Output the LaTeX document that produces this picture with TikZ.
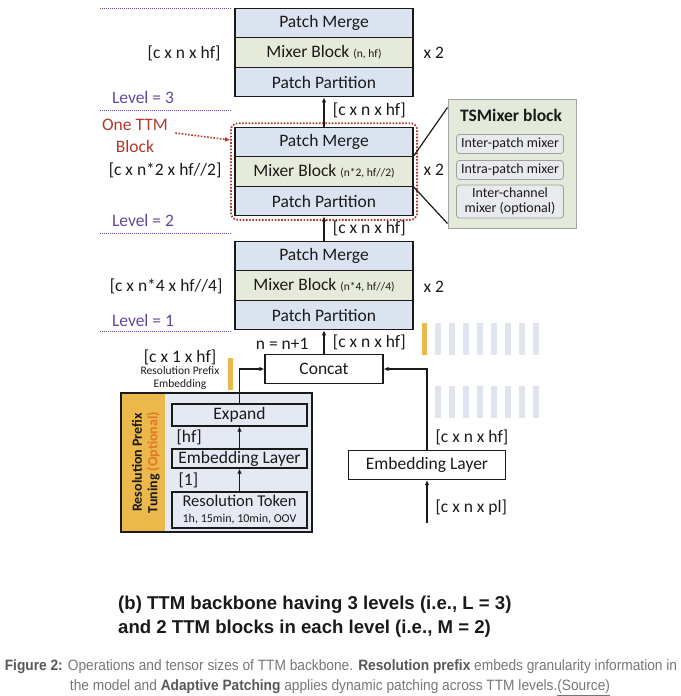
\documentclass[tikz,border=0pt]{standalone}
\usepackage{fontspec}
\setmainfont{Carlito}
\newfontfamily\capfont{Liberation Sans}
\usetikzlibrary{fit,arrows.meta}

\definecolor{mergeblue}{HTML}{DCE3F0}
\definecolor{mixgreen}{HTML}{E6EBD9}
\definecolor{levelpurple}{HTML}{6446A2}
\definecolor{ttmred}{HTML}{B0392B}
\definecolor{prefixyellow}{HTML}{EBB84C}
\definecolor{optorange}{HTML}{E2772B}
\definecolor{prefixbg}{HTML}{E4E9F3}
\definecolor{tokenbar}{HTML}{DFE4EE}
\definecolor{mixerbg}{HTML}{E3EAD9}
\definecolor{innergray}{HTML}{E8EAED}
\definecolor{capgray}{HTML}{767676}
\definecolor{capdark}{HTML}{575757}
\definecolor{inkblack}{HTML}{1A1A1A}

\newcommand{\bigtxt}{\fontsize{17.5}{20}\selectfont}
\newcommand{\smalltxt}{\fontsize{11.5}{13}\selectfont}

\begin{document}
\begin{tikzpicture}[x=1pt, y=-1pt,
        every node/.style={text=inkblack},
        ttmrow/.style={draw=inkblack, line width=1.2pt, minimum width=178pt, minimum height=29.5pt, inner sep=0pt, font=\bigtxt},
        mergerow/.style={ttmrow, fill=mergeblue},
        mixrow/.style={ttmrow, fill=mixgreen},
        plainbox/.style={draw=inkblack, line width=1.2pt, inner sep=0pt, font=\bigtxt},
        flow/.style={-{Latex[length=5pt,width=4.5pt]}, line width=1.2pt, inkblack},
        levelline/.style={levelpurple, line width=1pt, dash pattern=on 1pt off 1pt},
        levellabel/.style={text=levelpurple, font=\bigtxt},
        sizelabel/.style={font=\bigtxt},
        innerbox/.style={draw=gray!75, fill=innergray, rounded corners=3pt, line width=0.8pt, minimum width=107pt, minimum height=19pt, inner sep=0pt, font=\fontsize{14}{15.5}\selectfont}]
        \useasboundingbox (0,0) rectangle (680,696);

        % Level 3
        \draw[levelline] (100,8) -- (232,8);
        \node[mergerow] (mergeC) at (324,23) {Patch Merge};
        \node[mixrow] (mixC) at (324,52.5) {Mixer Block {\smalltxt (n, hf)}};
        \node[mergerow] (partC) at (324,82) {Patch Partition};
        \node[sizelabel, anchor=east] (sizeC) at (224,53) {[c x n x hf]};
        \node[sizelabel, anchor=west] (repC) at (420,53) {x 2};
        \node[levellabel] (levelC) at (143,97) {Level = 3};
        \draw[levelline] (100,110) -- (232,110);

        % Level 2 (one TTM block)
        \node[mergerow] (mergeB) at (324,142) {Patch Merge};
        \node[mixrow] (mixB) at (324,171.5) {Mixer Block {\smalltxt (n*2, hf//2)}};
        \node[mergerow] (partB) at (324,201) {Patch Partition};
        \node[fit=(mergeB)(partB), draw=ttmred, line width=1.8pt, dash pattern=on 1.6pt off 1.6pt, rounded corners=7pt, inner sep=3.5pt] (ttmblock) {};
        \node[sizelabel, anchor=east] (sizeB) at (225,170) {[c x n*2 x hf//2]};
        \node[sizelabel, anchor=west] (repB) at (420,170) {x 2};
        \node[text=ttmred, font=\fontsize{17.5}{22}\selectfont, align=center] (onettm) at (135,136) {One TTM\\Block};
        \coordinate (ttmtip) at (230,140);
        \draw[ttmred, line width=1.6pt, dash pattern=on 1.6pt off 1.6pt, -{Latex[length=5pt,width=5pt]}] ([xshift=4pt,yshift=3pt]onettm.east) -- (ttmtip);
        \node[levellabel] (levelB) at (143,220) {Level = 2};
        \draw[levelline] (100,233) -- (232,233);
        \draw[flow] (mergeB.north) -- (partC.south) node[midway, anchor=west, sizelabel, xshift=5pt, yshift=2pt] {[c x n x hf]};

        % TSMixer block
        \node[draw=gray!70, fill=mixerbg, line width=1pt, minimum width=128pt, minimum height=129pt] (tsmix) at (512,163.5) {};
        \node[font=\bfseries\fontsize{17.5}{20}\selectfont] (tstitle) at (511,115) {TSMixer block};
        \node[innerbox] (interp) at (510,144) {Inter-patch mixer};
        \node[innerbox] (intrap) at (510,170) {Intra-patch mixer};
        \node[innerbox, minimum height=33pt, align=center] (interc) at (510,201.5) {Inter-channel\\mixer (optional)};
        \draw[line width=1.2pt, inkblack] (mixB.north east) -- ([yshift=-9pt]tsmix.north west);
        \draw[line width=1.2pt, inkblack] (mixB.south east) -- ([yshift=5pt]tsmix.south west);

        % Level 1
        \node[mergerow] (mergeA) at (324,256) {Patch Merge};
        \node[mixrow] (mixA) at (324,285.5) {Mixer Block {\smalltxt (n*4, hf//4)}};
        \node[mergerow] (partA) at (324,315) {Patch Partition};
        \node[sizelabel, anchor=east] (sizeA) at (226,286) {[c x n*4 x hf//4]};
        \node[sizelabel, anchor=west] (repA) at (420,287) {x 2};
        \node[levellabel] (levelA) at (143,320) {Level = 1};
        \draw[levelline] (100,331) -- (232,331);
        \draw[flow] (mergeA.north) -- (partB.south) node[midway, anchor=west, sizelabel, xshift=5pt] {[c x n x hf]};

        % Concat
        \node[plainbox, minimum width=118pt, minimum height=29pt] (concat) at (324,369) {Concat};
        \draw[flow] (concat.north) -- (partA.south) node[midway, anchor=west, sizelabel, xshift=5pt] {[c x n x hf]};
        \node[sizelabel, anchor=east] (nstep) at (312,344) {n = n+1};

        % Resolution prefix
        \node[sizelabel] (prefixsize) at (180,357) {[c x 1 x hf]};
        \node[font=\smalltxt, align=center] (prefixname) at (180,378) {Resolution Prefix\\Embedding};
        \fill[prefixyellow] (228,358) rectangle (233,390);
        \fill[prefixbg] (121,393) rectangle (312,532);
        \fill[prefixyellow] (121,393) rectangle (165,532);
        \draw[line width=1.2pt, inkblack] (121,393) rectangle (312,532);
        \node[rotate=90, align=center, font=\bfseries\fontsize{14}{15.5}\selectfont] (tuning) at (146,462.5) {Resolution Prefix\\Tuning {\color{optorange}(Optional)}};
        \node[plainbox, fill=prefixbg, minimum width=135pt, minimum height=22pt] (expand) at (239.5,415) {Expand};
        \node[plainbox, fill=prefixbg, minimum width=135pt, minimum height=19pt] (embres) at (239.5,458.5) {Embedding Layer};
        \node[plainbox, fill=prefixbg, minimum width=135pt, minimum height=36pt, align=center, font=\fontsize{16.5}{18}\selectfont] (token) at (239.5,510) {Resolution Token\\[-2pt]{\fontsize{12}{13}\selectfont 1h, 15min, 10min, OOV}};
        \draw[flow] (token.north) -- (embres.south);
        \draw[flow] (embres.north) -- (expand.south);
        \node[sizelabel, anchor=west] (hflabel) at (173,437) {[hf]};
        \node[sizelabel, anchor=west] (onelabel) at (175,480) {[1]};
        \draw[flow] (expand.north) |- (concat.west);

        % Patch embedding
        \node[plainbox, minimum width=157pt, minimum height=29pt] (embpatch) at (427,465) {Embedding Layer};
        \coordinate (patchin) at (427,523);
        \draw[flow] (patchin) -- (embpatch.south);
        \draw[flow] (embpatch.north) |- (concat.east);
        \node[sizelabel, anchor=west] at (432,437) {[c x n x hf]};
        \node[sizelabel, anchor=west] at (432,508) {[c x n x pl]};

        % Token bars
        \fill[prefixyellow] (422,323) rectangle (427,355);
        \foreach \i in {0,...,7} {
            \fill[tokenbar] (435+14*\i,323) rectangle (441+14*\i,355);
            \fill[tokenbar] (435+14*\i,386) rectangle (441+14*\i,418);
        }

        % Captions
        \node[anchor=north west, align=left, font=\capfont\bfseries\fontsize{18.6}{24}\selectfont, inner sep=0pt] (subcap) at (118,596) {(b) TTM backbone having 3 levels (i.e., L = 3)\\and 2 TTM blocks in each level (i.e., M = 2)};
        \node[text=capgray, font=\capfont\fontsize{15}{17}\selectfont, inner sep=0pt] (figcapA) at (341,667) {\scalebox{0.915}[1]{{\color{capdark}\bfseries Figure 2:} Operations and tensor sizes of TTM backbone. {\color{capdark}\bfseries Resolution prefix} embeds granularity information in}};
        \node[text=capgray, font=\capfont\fontsize{15}{17}\selectfont, inner sep=0pt] (figcapB) at (340,688) {\scalebox{0.915}[1]{the model and {\color{capdark}\bfseries Adaptive Patching} applies dynamic patching across TTM levels.\underline{(Source)}}};
\end{tikzpicture}
\end{document}
